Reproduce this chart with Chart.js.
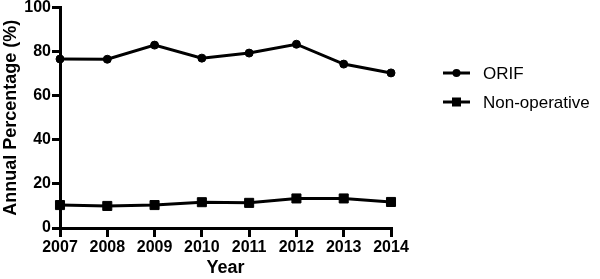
<!DOCTYPE html>
<html>
<head>
<meta charset="utf-8">
<script src="https://cdn.jsdelivr.net/npm/chart.js@4/dist/chart.umd.min.js"></script>
<style>
html,body{margin:0;padding:0;background:#fff;}
#wrap{width:600px;height:279px;position:relative;}
</style>
</head>
<body>
<div id="wrap"><canvas id="c"></canvas></div>
<script>
const years = ['2007','2008','2009','2010','2011','2012','2013','2014'];
const orif = [76.6, 76.5, 82.9, 77.0, 79.3, 83.3, 74.3, 70.3];
const nonOperative = [10.4, 10.0, 10.4, 11.7, 11.4, 13.4, 13.4, 11.8];
const yTicks = [0, 20, 40, 60, 80, 100];
const seriesNames = ['ORIF', 'Non-operative'];
const axisTitles = {x: 'Year', y: 'Annual Percentage (%)'};

const legendPlugin = {
  id: 'customLegend',
  afterDraw(chart) {
    const ctx = chart.ctx;
    ctx.save();
    const items = [
      {label: seriesNames[0], y: 73, style: 'circle'},
      {label: seriesNames[1], y: 102, style: 'rect'}
    ];
    items.forEach(it => {
      ctx.strokeStyle = '#000';
      ctx.lineWidth = 3;
      ctx.beginPath();
      ctx.moveTo(443, it.y);
      ctx.lineTo(470, it.y);
      ctx.stroke();
      ctx.fillStyle = '#000';
      if (it.style === 'circle') {
        ctx.beginPath();
        ctx.arc(456.5, it.y, 4, 0, Math.PI * 2);
        ctx.fill();
      } else {
        ctx.fillRect(452, it.y - 4.5, 9, 9);
      }
      ctx.font = '17px "Liberation Sans", Arial, sans-serif';
      ctx.textBaseline = 'middle';
      ctx.textAlign = 'left';
      ctx.fillText(it.label, 483, it.y + 1);
    });
    ctx.restore();
  }
};

const tickFont = {family: '"Liberation Sans", Arial, sans-serif', size: 16, weight: 'bold'};
const titleFont = {family: '"Liberation Sans", Arial, sans-serif', size: 18, weight: 'bold'};

new Chart(document.getElementById('c'), {
  type: 'line',
  data: {
    labels: years,
    datasets: [
      {label: seriesNames[0], data: orif, borderColor: '#000', backgroundColor: '#000',
       borderWidth: 3, pointStyle: 'circle', pointRadius: 4, pointBorderWidth: 1, tension: 0},
      {label: seriesNames[1], data: nonOperative, borderColor: '#000', backgroundColor: '#000',
       borderWidth: 3, pointStyle: 'rect', pointRadius: 6.4, pointBorderWidth: 1, tension: 0}
    ]
  },
  options: {
    responsive: true,
    maintainAspectRatio: false,
    animation: false,
    events: [],
    layout: {padding: {left: 0, right: 209, top: 6, bottom: 0}},
    plugins: {legend: {display: false}, tooltip: {enabled: false}},
    scales: {
      x: {
        type: 'category',
        offset: false,
        grid: {display: true, drawOnChartArea: false, drawTicks: true, tickLength: 9, color: '#000', tickColor: '#000', tickWidth: 3, lineWidth: 3},
        border: {display: true, color: '#000', width: 3},
        ticks: {color: '#000', font: tickFont, padding: 1, maxRotation: 0, autoSkip: false},
        title: {display: true, text: axisTitles.x, color: '#000', font: titleFont, padding: {top: 0, bottom: 0}},
        afterFit(scale) { scale.height = 51; scale.paddingRight = 0; scale.paddingLeft = 0; }
      },
      y: {
        min: 0, max: 100,
        afterBuildTicks(scale) { scale.ticks = yTicks.map(v => ({value: v})); },
        grid: {display: true, drawOnChartArea: false, drawTicks: true, tickLength: 8, color: '#000', tickColor: '#000', tickWidth: 3, lineWidth: 3},
        border: {display: true, color: '#000', width: 3},
        ticks: {color: '#000', font: tickFont, padding: 1},
        title: {display: true, text: axisTitles.y, color: '#000', font: titleFont, padding: {top: 0, bottom: 0}},
        afterFit(scale) { scale.width = 60; scale.paddingTop = 0; scale.paddingBottom = 0; }
      }
    }
  },
  plugins: [legendPlugin]
});
</script>
</body>
</html>
